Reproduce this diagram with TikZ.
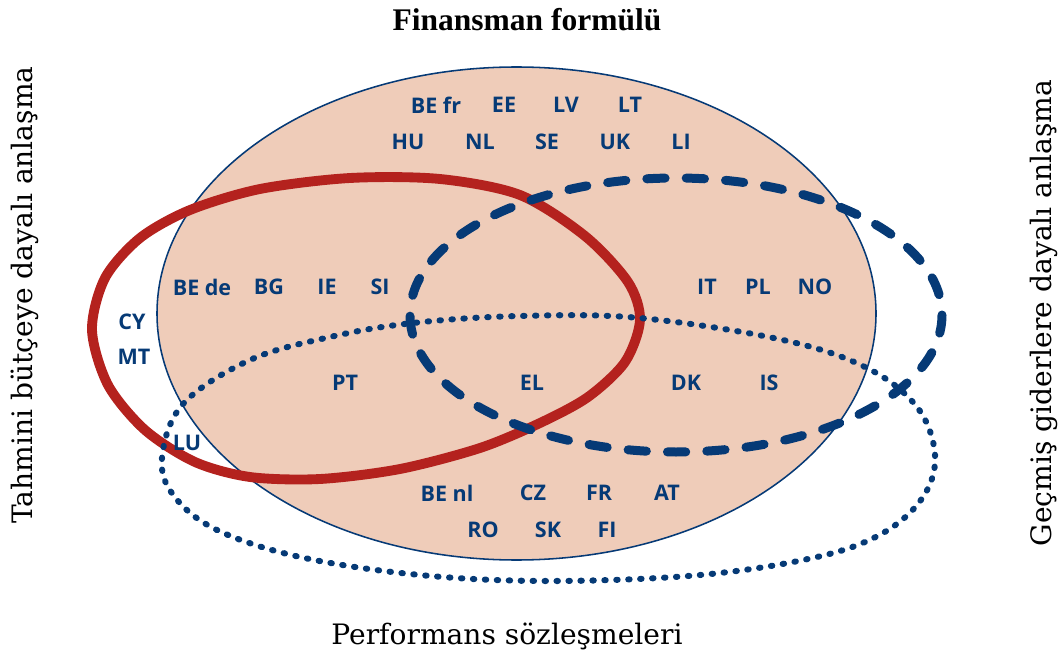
\documentclass[tikz,border=0pt]{standalone}
\usepackage{fontspec}
\setmainfont{DejaVu Serif}
\newfontfamily\headfont{Liberation Serif}
\newfontfamily\codefont{Open Sans}
\definecolor{peach}{RGB}{239,204,185}
\definecolor{navy}{RGB}{6,58,118}
\definecolor{brick}{RGB}{180,34,30}
\tikzset{
    land/.style={font=\codefont\bfseries\fontsize{15.3}{15.3}\selectfont, text=navy, inner sep=1pt},
    side/.style={font=\fontsize{20}{20}\selectfont, inner sep=0pt},
    budget/.style={draw=brick, line width=7pt},
    past/.style={draw=navy, line width=6.4pt, line cap=round, dash pattern=on 13pt off 15pt},
    perf/.style={draw=navy, line width=4.3pt, line cap=round, dash pattern=on 1pt off 7.5pt}
}

\begin{document}
\begin{tikzpicture}[x=0.025cm, y=-0.025cm]
    \useasboundingbox (0,0) rectangle (1060,656);

    % funding formula set
    \fill[peach, draw=navy, line width=1.1pt] (516.5,313.5) ellipse [x radius=359.5, y radius=246.5];

    % estimated budget (egg shaped, pointed to the right)
    \draw[budget] plot[smooth cycle, tension=0.5] coordinates {
        (92,330) (105,278) (140,238) (190,210) (260,189) (350,178)
        (440,179) (520,195) (585,236) (628,282) (640,320) (625,362)
        (588,397) (540,423) (480,448) (400,469) (320,479) (250,477)
        (195,462) (145,430) (108,385)};
    % past expenditure
    \draw[past] (676,315) ellipse [x radius=266, y radius=137];
    % performance contracts
    \draw[perf] plot[smooth cycle, tension=0.6] coordinates {
        (162,458) (183,404) (250,360) (330,337) (413,323) (520,316)
        (640,318) (783,340) (867,368) (917,407) (935,455) (923,497)
        (883,533) (817,557) (700,575) (550,581) (420,575) (300,557)
        (217,530) (174,496)};

    % titles
    \node[font=\headfont\bfseries\fontsize{22.4}{22.4}\selectfont, inner sep=0pt] (title) at (527,20) {Finansman formülü};
    \node[side, rotate=90] (budgetlbl) at (25,295) {Tahmini bütçeye dayalı anlaşma};
    \node[side, rotate=90] (pastlbl) at (1044,313) {Geçmiş giderlere dayalı anlaşma};
    \node[side] (perflbl) at (507,636) {Performans sözleşmeleri};

    % countries
    \node[land] (befr) at (436,105) {BE fr};
    \node[land] (ee) at (504,105) {EE};
    \node[land] (lv) at (566,105) {LV};
    \node[land] (lt) at (630,105) {LT};
    \node[land] (hu) at (408,142) {HU};
    \node[land] (nl) at (480,142) {NL};
    \node[land] (se) at (547,142) {SE};
    \node[land] (uk) at (615,142) {UK};
    \node[land] (li) at (681,142) {LI};

    \node[land] (bede) at (202,287) {BE de};
    \node[land] (bg) at (269,287) {BG};
    \node[land] (ie) at (327,287) {IE};
    \node[land] (si) at (380,287) {SI};
    \node[land] (it) at (707,287) {IT};
    \node[land] (pl) at (758,287) {PL};
    \node[land] (no) at (815,287) {NO};

    \node[land] (cy) at (132,322) {CY};
    \node[land] (mt) at (134,357) {MT};
    \node[land] (lu) at (187,443) {LU};

    \node[land] (pt) at (345,383) {PT};
    \node[land] (el) at (532,383) {EL};
    \node[land] (dk) at (686,383) {DK};
    \node[land] (is) at (769,383) {IS};

    \node[land] (benl) at (447,493) {BE nl};
    \node[land] (cz) at (533,493) {CZ};
    \node[land] (fr) at (599,493) {FR};
    \node[land] (at) at (667,493) {AT};
    \node[land] (ro) at (483,530) {RO};
    \node[land] (sk) at (548,530) {SK};
    \node[land] (fi) at (607,530) {FI};
\end{tikzpicture}
\end{document}
